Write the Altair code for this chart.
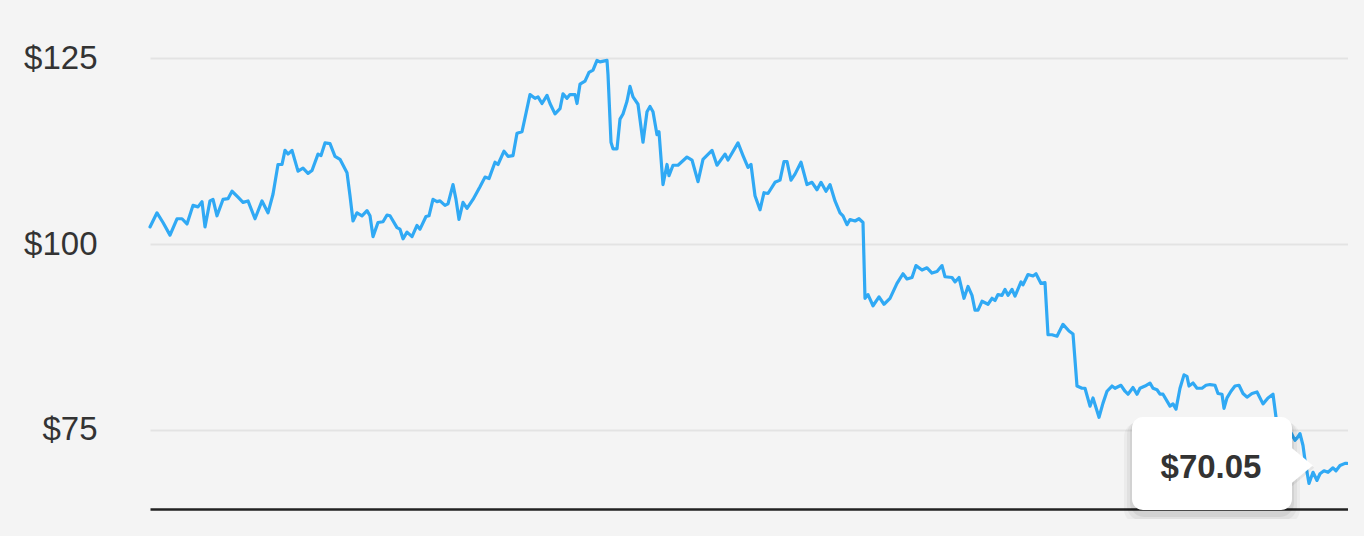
import altair as alt
import pandas as pd

# ---- data ----
days = [0, 7, 13, 20, 27, 32, 37, 43, 48, 52, 55, 60, 63, 67, 73, 78, 82, 88, 93, 98,
        105, 112, 118, 123, 128, 132, 135, 138, 142, 148, 153, 158, 162, 168, 171, 175, 180, 185, 190, 197,
        200, 203, 207, 212, 217, 220, 223, 228, 233, 237, 240, 247, 250, 253, 257, 262, 267, 270, 276, 279,
        283, 287, 290, 295, 298, 303, 306, 309, 313, 317, 323, 330, 335, 339, 345, 348, 354, 358, 363, 367,
        372, 380, 385, 388, 392, 397, 400, 405, 410, 413, 417, 420, 425, 427, 430, 435, 439, 443, 447, 450,
        457, 458, 461, 463, 467, 470, 473, 477, 480, 483, 488, 493, 497, 500, 503, 507, 509, 513, 517, 519,
        523, 528, 537, 542, 548, 553, 562, 567, 575, 578, 588, 593, 598, 601, 605, 610, 614, 618, 625, 630,
        634, 637, 641, 645, 651, 657, 662, 667, 671, 676, 680, 685, 690, 693, 697, 700, 705, 709, 713, 715,
        718, 723, 729, 734, 740, 747, 753, 757, 762, 766, 772, 777, 782, 787, 792, 795, 802, 805, 809, 814,
        818, 822, 825, 828, 832, 838, 842, 845, 848, 852, 855, 858, 862, 865, 871, 873, 878, 883, 886, 891,
        895, 898, 902, 907, 913, 919, 923, 927, 932, 935, 940, 943, 949, 953, 957, 962, 965, 971, 975, 978,
        983, 987, 990, 995, 1000, 1003, 1007, 1010, 1013, 1020, 1023, 1026, 1030, 1034, 1037, 1039, 1043, 1047, 1052, 1056,
        1060, 1065, 1068, 1072, 1074, 1077, 1081, 1085, 1089, 1093, 1097, 1102, 1107, 1113, 1118, 1123, 1126, 1130, 1135, 1141,
        1145, 1147, 1150, 1153, 1155, 1159, 1163, 1167, 1170, 1174, 1178, 1183, 1186, 1190, 1195, 1197]

prices = [102.3, 104.2, 102.9, 101.2, 103.4, 103.4, 102.7, 105.2, 105.0, 105.7, 102.3, 105.8, 106.0, 103.8, 106.0, 106.1, 107.1, 106.3, 105.6, 105.8,
          103.4, 105.8, 104.2, 106.7, 110.7, 110.7, 112.6, 112.1, 112.6, 109.8, 110.2, 109.5, 109.9, 112.1, 111.9, 113.6, 113.5, 111.8, 111.4, 109.6,
          106.5, 103.1, 104.2, 103.8, 104.5, 103.8, 101.0, 102.9, 103.0, 103.9, 103.8, 102.2, 102.0, 100.7, 101.6, 101.0, 102.5, 102.0, 103.7, 103.8,
          106.0, 105.7, 105.8, 105.2, 105.4, 108.0, 106.0, 103.3, 105.6, 104.8, 106.0, 107.7, 109.0, 108.8, 111.0, 110.7, 112.5, 111.8, 111.9, 114.9,
          115.1, 120.1, 119.6, 119.8, 118.9, 120.0, 118.9, 117.5, 118.2, 120.2, 119.6, 120.1, 120.1, 118.9, 121.5, 121.9, 123.1, 123.4, 124.7, 124.5,
          124.7, 122.8, 113.7, 112.8, 112.8, 116.8, 117.5, 119.2, 121.2, 119.8, 118.8, 113.7, 117.8, 118.5, 117.8, 114.7, 115.1, 108.0, 110.7, 109.2,
          110.6, 110.6, 111.7, 111.3, 108.4, 111.4, 112.6, 110.6, 112.1, 111.3, 113.6, 111.9, 110.3, 110.7, 106.5, 104.6, 106.9, 106.8, 108.3, 108.6,
          111.1, 111.1, 108.6, 109.4, 111.0, 108.0, 108.3, 107.3, 108.3, 107.1, 108.0, 105.8, 104.2, 103.8, 102.6, 103.3, 103.1, 103.4, 102.9, 92.7,
          93.2, 91.7, 92.9, 91.9, 92.7, 94.7, 96.0, 95.3, 95.5, 97.1, 96.5, 96.8, 96.1, 96.3, 97.1, 95.6, 95.5, 94.9, 95.5, 92.7,
          94.3, 93.1, 91.1, 91.1, 92.3, 91.9, 92.7, 92.4, 93.2, 93.1, 93.9, 93.1, 93.9, 93.0, 94.9, 94.5, 95.9, 95.7, 96.0, 94.7,
          94.8, 87.8, 87.8, 87.6, 89.2, 88.3, 87.9, 80.9, 80.6, 80.6, 78.2, 79.3, 76.7, 78.6, 80.2, 80.9, 80.6, 81.0, 80.2, 79.8,
          80.7, 79.8, 80.6, 80.9, 81.3, 80.6, 80.4, 79.8, 79.8, 78.2, 78.5, 77.8, 80.6, 82.4, 82.2, 80.9, 81.3, 80.6, 80.6, 81.0,
          81.1, 81.0, 79.9, 79.8, 77.9, 79.3, 80.2, 80.9, 81.0, 79.9, 79.4, 79.9, 80.1, 78.5, 79.3, 79.8, 76.7, 76.0, 75.2, 74.6,
          73.6, 73.9, 74.5, 72.9, 70.9, 67.8, 69.3, 68.2, 69.1, 69.5, 69.3, 69.9, 69.5, 70.2, 70.5, 70.5]

y_ticks = [75, 100, 125]
tooltip_label = "$70.05"

FONT = "Liberation Sans"
X_DOMAIN = [0, 1198]
Y_DOMAIN = [64.36, 130]

df = pd.DataFrame({"day": days, "price": prices})

xs = alt.Scale(domain=X_DOMAIN, nice=False, zero=False)
ys = alt.Scale(domain=Y_DOMAIN, nice=False, zero=False)

line = alt.Chart(df).mark_line(color="#30a9f4", strokeWidth=3.2, strokeJoin="round",
                               strokeCap="round").encode(
    x=alt.X("day:Q", scale=xs,
            axis=alt.Axis(labels=False, ticks=False, grid=False, title=None,
                          domainColor="#222222", domainWidth=2.5)),
    y=alt.Y("price:Q", scale=ys,
            axis=alt.Axis(values=y_ticks, labelExpr="'$' + datum.value", title=None,
                          domain=False, ticks=False, grid=True, gridColor="#e3e3e3",
                          gridWidth=2, labelFont=FONT, labelFontSize=33,
                          labelColor="#333333", labelPadding=53)),
)

# tooltip callout (annotation), placed in data units
shadow = pd.DataFrame({"x1": [974, 977, 980], "x2": [1150, 1147, 1144],
                       "y1": [76.0, 76.3, 76.55], "y2": [62.4, 62.85, 63.3],
                       "op": [0.035, 0.045, 0.06]})
box = pd.DataFrame({"x1": [982], "x2": [1142], "y1": [76.74], "y2": [64.23]})
pointer_shadow = pd.DataFrame({"x": [1153], "y": [69.9]})
pointer = pd.DataFrame({"x": [1152], "y": [70.2]})
label = pd.DataFrame({"x": [1061], "y": [69.88], "t": [tooltip_label]})

shadow_l = alt.Chart(shadow).mark_rect(cornerRadius=14, color="#000000").encode(
    x=alt.X("x1:Q", scale=xs), x2="x2:Q", y=alt.Y("y1:Q", scale=ys), y2="y2:Q",
    opacity=alt.Opacity("op:Q", scale=None, legend=None))
pshadow_l = alt.Chart(pointer_shadow).mark_point(
    shape="M-0.6,-1L0.6,0L-0.6,1Z", size=1400, filled=True, color="#000000", opacity=0.06
).encode(x=alt.X("x:Q", scale=xs), y=alt.Y("y:Q", scale=ys))
box_l = alt.Chart(box).mark_rect(cornerRadius=11, color="#ffffff").encode(
    x=alt.X("x1:Q", scale=xs), x2="x2:Q", y=alt.Y("y1:Q", scale=ys), y2="y2:Q")
pointer_l = alt.Chart(pointer).mark_point(
    shape="M-0.6,-1L0.6,0L-0.6,1Z", size=1296, filled=True, color="#ffffff", opacity=1
).encode(x=alt.X("x:Q", scale=xs), y=alt.Y("y:Q", scale=ys))
label_l = alt.Chart(label).mark_text(font=FONT, fontSize=33, fontWeight="bold", color="#333333",
                                     align="center", baseline="middle").encode(
    x=alt.X("x:Q", scale=xs), y=alt.Y("y:Q", scale=ys), text="t:N")

chart = alt.layer(line, shadow_l, pshadow_l, box_l, pointer_l, label_l).properties(
    width=1198, height=488,
    autosize=alt.AutoSizeParams(type="none"),
    padding={"left": 142, "top": 13, "right": 0, "bottom": 10},
    background="#f4f4f4",
).configure_view(stroke=None)

try:
    import jinja2
    TEMPLATE = jinja2.Template("""<!DOCTYPE html>
<html>
<head>
<style>html, body { background: #f4f4f4; }</style>
<script type="text/javascript" src="{{ base_url }}/vega@{{ vega_version }}"></script>
<script type="text/javascript" src="{{ base_url }}/vega-lite@{{ vegalite_version }}"></script>
<script type="text/javascript" src="{{ base_url }}/vega-embed@{{ vegaembed_version }}"></script>
</head>
<body>
<div id="{{ output_div }}"></div>
<script type="text/javascript">
  vegaEmbed("#{{ output_div }}", {{ spec }}, {{ embed_options }}).catch(console.error);
</script>
</body>
</html>
""")
    chart.save("out.html", embed_options={"renderer": "svg", "actions": False}, template=TEMPLATE)
except Exception:
    chart.save("out.html", embed_options={"renderer": "svg", "actions": False})
